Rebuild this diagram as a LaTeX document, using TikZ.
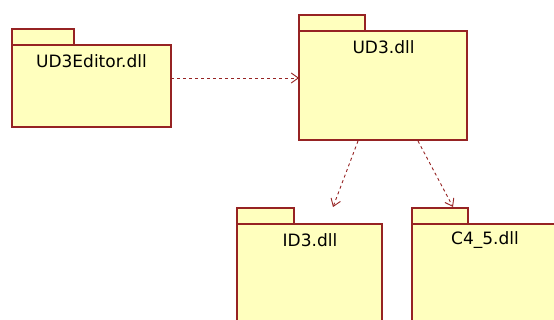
\documentclass[tikz,border=0pt]{standalone}
\usepackage{fontspec}
\setmainfont{DejaVu Sans}
\usetikzlibrary{arrows.meta}
\definecolor{pkgfill}{RGB}{255,255,190}
\definecolor{pkgline}{RGB}{150,35,35}
\tikzset{
  pkgbody/.style={draw=pkgline, fill=pkgfill, line width=1.2pt},
  pkglabel/.style={font=\fontsize{17}{19}\selectfont, text=black, inner sep=0pt},
  dep/.style={draw=pkgline, line width=0.9pt, dash pattern=on 3pt off 3pt,
    -{Straight Barb[length=7pt,width=10pt,line width=0.9pt]}}
}
% draws a UML package: tab on top, body below; #1 name, #2 left, #3 tab right, #4 tab top, #5 body top, #6 right, #7 bottom
\newcommand{\umlpkg}[7]{%
  \draw[pkgbody] (#2,-#4) rectangle (#3,-#5);
  \draw[pkgbody] (#2,-#5) rectangle (#6,-#7);
  \coordinate (#1-nw) at (#2,-#5);
  \coordinate (#1-ne) at (#6,-#5);
}
\begin{document}
\begin{tikzpicture}[x=1pt,y=1pt]
\useasboundingbox (0,0) rectangle (554,-320);
\clip (0,0) rectangle (554,-320);
\fill[white] (0,0) rectangle (554,-320);

\umlpkg{ed}{12}{74}{29}{45}{171}{127}
\umlpkg{ud}{299}{365}{15}{31}{467}{140}
\umlpkg{id}{237}{294}{208}{224}{382}{330}
\umlpkg{c4}{412}{468}{208}{224}{558}{330}

\node[pkglabel] (edtext) at (91.5,-61.5) {UD3Editor.dll};
\node[pkglabel] (udtext) at (383.5,-47) {UD3.dll};
\node[pkglabel] (idtext) at (310,-240) {ID3.dll};
\node[pkglabel] (c4text) at (485,-240) {C4\_5.dll};

\coordinate (edout) at (171,-78);
\coordinate (udin) at (299,-78);
\coordinate (udout1) at (358,-141);
\coordinate (idin) at (333,-207);
\coordinate (udout2) at (418,-141);
\coordinate (c4in) at (453,-207);

\draw[dep] (edout) -- (udin);
\draw[dep] (udout1) -- (idin);
\draw[dep] (udout2) -- (c4in);
\end{tikzpicture}
\end{document}
